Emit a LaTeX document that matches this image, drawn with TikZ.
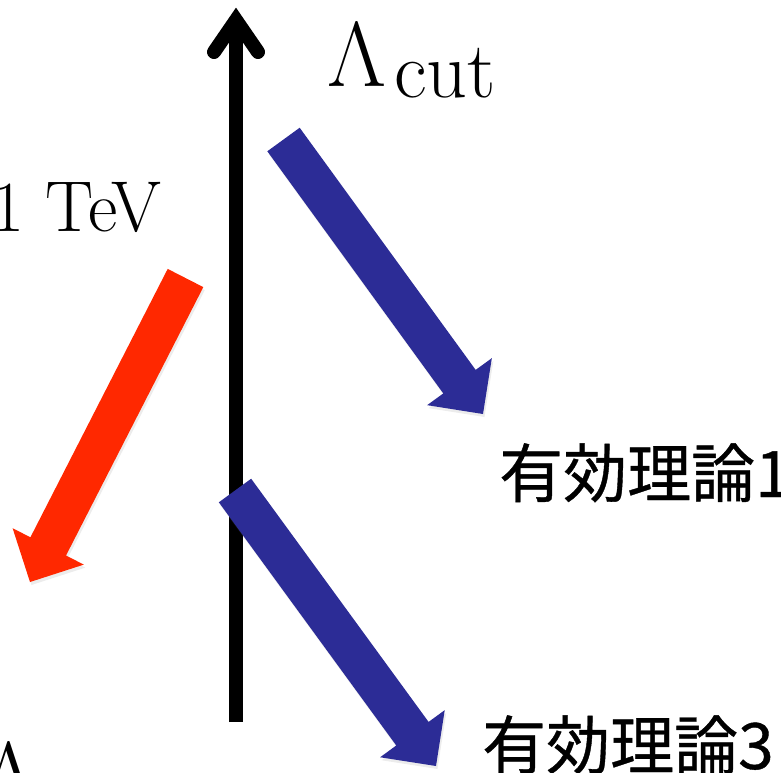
\documentclass[tikz,border=0pt]{standalone}
\usepackage{fontspec}
\newfontfamily\cjk{Noto Sans CJK JP}[FakeBold=0.6]
\usetikzlibrary{calc,shadows}
\definecolor{arrowblue}{RGB}{44,44,150}
\definecolor{arrowred}{RGB}{255,40,0}
\tikzset{
  fatarrow/.style={draw=none, drop shadow={shadow xshift=1.5pt, shadow yshift=-3pt, opacity=0.15}},
  axisline/.style={line width=14pt, draw=black},
  lambdatext/.style={inner sep=0pt, font=\fontsize{92}{92}\selectfont},
  subtext/.style={inner sep=0pt, font=\fontsize{80}{80}\selectfont},
  seriftext/.style={inner sep=0pt, font=\fontsize{72}{72}\selectfont},
  cjktext/.style={inner sep=0pt, font=\cjk\fontsize{64}{64}\selectfont},
}
\newcommand\drawfatarrow[3]{%
  \coordinate (#2b) at ($(#3)!40pt!(#2)$);
  \path[fatarrow,fill=#1]
    ($(#2)!20pt!90:(#3)$) -- ($(#2b)!20pt!90:(#3)$) -- ($(#2b)!40pt!90:(#3)$)
    -- (#3) -- ($(#2b)!40pt!-90:(#3)$) -- ($(#2b)!20pt!-90:(#3)$)
    -- ($(#2)!20pt!-90:(#3)$) -- cycle;
}
\begin{document}
\begin{tikzpicture}[x=1pt,y=-1pt]
\useasboundingbox (0,0) rectangle (781,772);
% vertical axis
\coordinate (axbot) at (236,722);
\coordinate (axtop) at (236,20);
\coordinate (axl) at (214,52);
\coordinate (axr) at (258,52);
\draw[axisline] (axbot) -- (axtop);
\draw[axisline, line cap=round, line join=miter] (axl) -- (axtop) -- (axr);
% labels
\node[lambdatext, anchor=base west] (lam) at (327,86) {Λ};
\node[subtext, anchor=base west] (cut) at (394,97) {cut};
\node[seriftext, anchor=base east] (tev) at (162,231) {1 TeV};
\node[lambdatext, anchor=base west] (lam2) at (-21,806) {Λ};
\node[cjktext, anchor=base west] (eft1) at (499,497) {有効理論1};
\node[cjktext, anchor=base west] (eft3) at (482,769) {有効理論3};
% arrows
\coordinate (s1) at (283.5,139.5);
\coordinate (t1) at (483,414);
\coordinate (s2) at (235,490.5);
\coordinate (t2) at (436,766);
\coordinate (s3) at (185.5,278);
\coordinate (t3) at (30,582);
\drawfatarrow{arrowblue}{s1}{t1}
\drawfatarrow{arrowblue}{s2}{t2}
\drawfatarrow{arrowred}{s3}{t3}
\end{tikzpicture}
\end{document}
